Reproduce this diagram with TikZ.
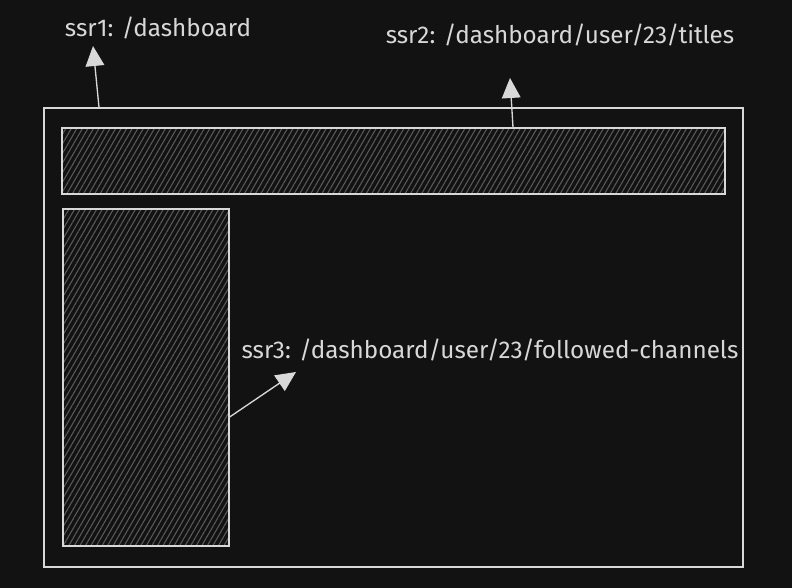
\documentclass[tikz,border=0pt]{standalone}
\usepackage{fontspec}
\setmainfont{Fira Sans}
\usetikzlibrary{arrows.meta,patterns.meta}
\definecolor{bgdark}{HTML}{121212}
\definecolor{inkline}{HTML}{D8D8D8}
\definecolor{hatchgray}{HTML}{5A5A5A}
\tikzset{every picture/.style={line width=0.75pt}}
\tikzset{
  panel/.style={draw=inkline, line width=1pt, inner sep=0pt},
  hatched/.style={panel, pattern={Lines[angle=60,distance=3.6pt,line width=0.8pt]}, pattern color=hatchgray},
  route/.style={text=inkline, inner sep=0.75pt, font=\fontsize{18.2}{21}\selectfont},
  pointer/.style={draw=inkline, line width=1pt, -{Triangle[width=14pt,length=15pt]}}
}

\begin{document}
\begin{tikzpicture}[x=0.75pt,y=0.75pt,yscale=-1,xscale=1]
				% background, sets the size of the diagram
				\fill [bgdark] (0,0) rectangle (792,588);
				\useasboundingbox (0,0) rectangle (792,588);
				
				% Outer frame
				\node [panel, minimum width=524.25pt, minimum height=344.25pt] (frame) at (393.5,337.5) {};
				% Title bar
				\node [hatched, minimum width=497.25pt, minimum height=49.5pt] (titlebar) at (393.5,161) {};
				% Side panel
				\node [hatched, minimum width=124.5pt, minimum height=252.75pt] (sidepanel) at (146,377.5) {};
				
				% Text Node
				\node [route] (ssrone) at (158,28) {ssr1: /dashboard};
				% Text Node
				\node [route] (ssrtwo) at (560,35) {ssr2: /dashboard/user/23/titles};
				% Text Node
				\node [route] (ssrthree) at (490,350) {ssr3: /dashboard/user/23/followed-channels};
				
				% arrow tips
				\coordinate (tipone) at (93,46);
				\coordinate (tiptwo) at (510,78);
				\coordinate (tipthree) at (296,372);
				
				%Arrows
				\draw [pointer] (frame.north west -| 99,0) -- (tipone);
				\draw [pointer] (titlebar.north west -| 513,0) -- (tiptwo);
				\draw [pointer] (sidepanel.east |- 0,417) -- (tipthree);
				
\end{tikzpicture}
\end{document}
